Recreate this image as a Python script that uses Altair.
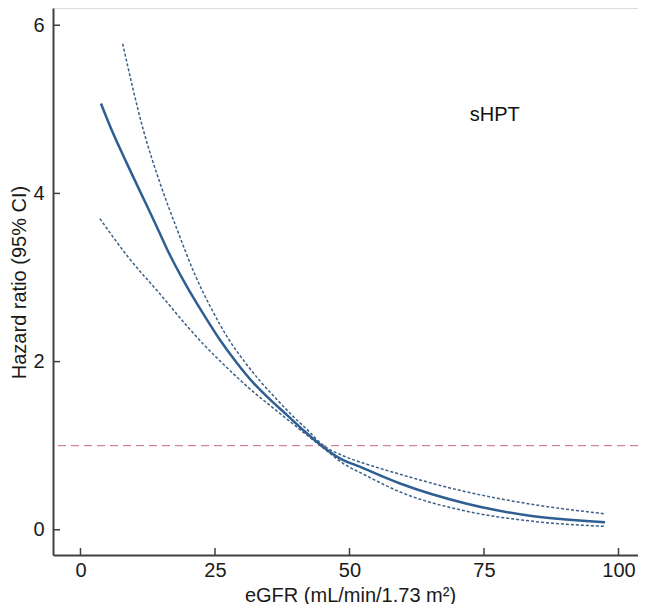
import altair as alt
import pandas as pd

# Spline estimate (solid) and 95% CI bounds (dashed)
egfr_main = [3.8, 5.5, 8.6, 11.7, 14.2, 16.6, 19.7, 22.8, 25.9, 29.0, 32.1, 35.2, 38.3,
             41.5, 44.8, 48.2, 51.9, 59.4, 71.8, 84.2, 97.5]
hr_main = [5.07, 4.80, 4.36, 3.94, 3.60, 3.27, 2.90, 2.57, 2.26, 1.99, 1.75, 1.55, 1.37,
           1.18, 1.00, 0.85, 0.75, 0.55, 0.31, 0.16, 0.09]

egfr_upper = [7.84, 11.7, 14.8, 17.9, 21.3, 24.4, 27.5, 30.6, 33.5, 36.5, 39.5, 42.0,
              45.0, 48.8, 53.2, 59.4, 71.8, 84.2, 97.5]
hr_upper = [5.78, 4.75, 4.12, 3.58, 3.03, 2.62, 2.27, 1.99, 1.76, 1.55, 1.35, 1.20,
            1.01, 0.88, 0.78, 0.66, 0.45, 0.30, 0.19]

egfr_lower = [3.6, 8.9, 15.1, 19.7, 22.8, 25.9, 29.0, 32.3, 35.2, 38.3, 42.0, 45.0,
              48.8, 52.6, 59.4, 71.8, 84.2, 97.5]
hr_lower = [3.70, 3.24, 2.78, 2.43, 2.21, 2.01, 1.82, 1.63, 1.48, 1.32, 1.13, 0.98,
            0.79, 0.66, 0.45, 0.22, 0.10, 0.04]

x_ticks = [0, 25, 50, 75, 100]
y_ticks = [0, 2, 4, 6]
ref_hr = [1]
label_text = ["sHPT"]
label_x = [77]
label_y = [4.93]

FONT = "Liberation Sans"

main_df = pd.DataFrame({"egfr": egfr_main, "hr": hr_main})
upper_df = pd.DataFrame({"egfr": egfr_upper, "hr": hr_upper})
lower_df = pd.DataFrame({"egfr": egfr_lower, "hr": hr_lower})

PLOT_W = 585
PLOT_H = 547
x_scale = alt.Scale(domain=[-5.11, -5.11 + PLOT_W / 5.38], nice=False, zero=False)
y_scale = alt.Scale(domain=[-0.3, 6.205], nice=False, zero=False)

x_axis = alt.Axis(
    values=x_ticks, ticks=False, tickSize=0, grid=False, format="d",
    domainColor="#404040", domainWidth=2,
    labelFont=FONT, labelFontSize=20, labelColor="#1a1a1a", labelPadding=5,
    title="eGFR (mL/min/1.73 m²)", titleFont=FONT, titleFontSize=20,
    titleFontWeight="normal", titleColor="#1a1a1a",
    titleBaseline="alphabetic", titleY=46, titleX=297, titleAlign="center",
)
y_axis = alt.Axis(
    values=y_ticks, ticks=False, tickSize=0, grid=False, format="d",
    domainColor="#404040", domainWidth=2,
    labelFont=FONT, labelFontSize=20, labelColor="#1a1a1a", labelPadding=9,
    title="Hazard ratio (95% CI)", titleFont=FONT, titleFontSize=20,
    titleFontWeight="normal", titleColor="#1a1a1a",
    titleAngle=270, titleBaseline="alphabetic", titleX=-28, titleY=274,
    titleAlign="center",
)

base_x = alt.X("egfr:Q", scale=x_scale, axis=x_axis)
base_y = alt.Y("hr:Q", scale=y_scale, axis=y_axis)

main_line = alt.Chart(main_df).mark_line(
    color="#2f5f92", strokeWidth=2.5, interpolate="monotone"
).encode(x=base_x, y=base_y)

upper_line = alt.Chart(upper_df).mark_line(
    color="#3b5f86", strokeWidth=1.5, strokeDash=[3, 2], interpolate="monotone"
).encode(x=alt.X("egfr:Q", scale=x_scale), y=alt.Y("hr:Q", scale=y_scale))

lower_line = alt.Chart(lower_df).mark_line(
    color="#3b5f86", strokeWidth=1.5, strokeDash=[3, 2], interpolate="monotone"
).encode(x=alt.X("egfr:Q", scale=x_scale), y=alt.Y("hr:Q", scale=y_scale))

ref_line = alt.Chart(pd.DataFrame({"hr": ref_hr})).mark_rule(
    color="#c8687c", strokeWidth=1, strokeDash=[8, 5]
).encode(y=alt.Y("hr:Q", scale=y_scale))

xtick_marks = alt.Chart(pd.DataFrame({"egfr": x_ticks})).mark_rule(
    color="#404040", strokeWidth=1.5
).encode(x=alt.X("egfr:Q", scale=x_scale), y=alt.value(PLOT_H), y2=alt.value(PLOT_H - 7))

ytick_marks = alt.Chart(pd.DataFrame({"hr": y_ticks})).mark_rule(
    color="#404040", strokeWidth=1.5
).encode(y=alt.Y("hr:Q", scale=y_scale), x=alt.value(0), x2=alt.value(7))

label = alt.Chart(pd.DataFrame({"egfr": label_x, "hr": label_y, "t": label_text})).mark_text(
    font=FONT, fontSize=20, color="#111111", align="center", baseline="middle"
).encode(x=alt.X("egfr:Q", scale=x_scale), y=alt.Y("hr:Q", scale=y_scale), text="t:N")

chart = alt.layer(
    ref_line, lower_line, upper_line, main_line, xtick_marks, ytick_marks, label
).properties(
    width=PLOT_W, height=PLOT_H,
    autosize=alt.AutoSizeParams(type="none"),
    padding={"left": 45, "top": 0, "right": 0, "bottom": 49},
).configure_view(stroke=None).configure(background="white")

chart.save("out.html", embed_options={"renderer": "svg", "actions": False})
